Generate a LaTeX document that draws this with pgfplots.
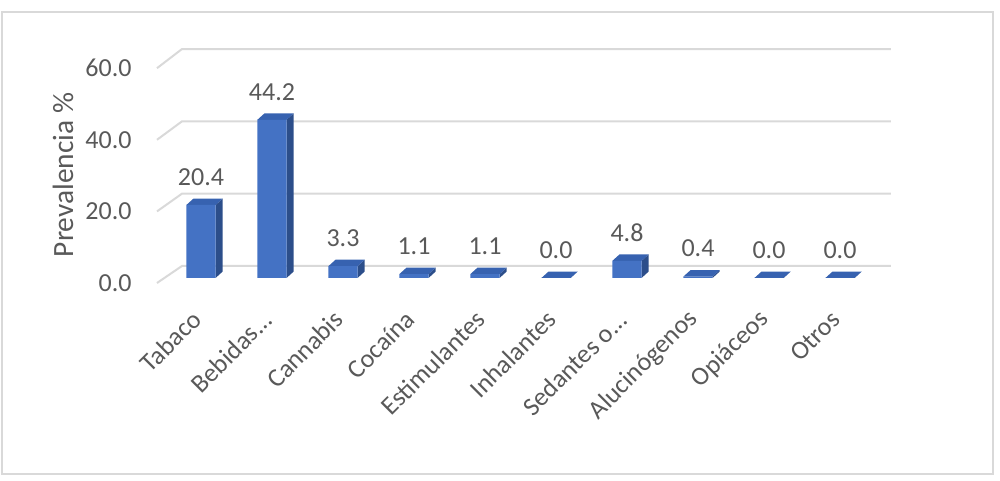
\documentclass[border=0pt]{standalone}
\usepackage{fontspec}
\setmainfont{Carlito}
\usepackage{pgfplots}
\usepackage{pgfplotstable}
\pgfplotsset{compat=1.18}
\definecolor{frontcol}{HTML}{4472C4}
\definecolor{sidecol}{HTML}{2C4E8A}
\definecolor{topcol}{HTML}{3762B0}
\definecolor{gridcol}{HTML}{D9D9D9}
\definecolor{textcol}{HTML}{595959}
\pgfplotstableread{
x v
0 20.4
1 44.2
2 3.3
3 1.1
4 1.1
5 0.0
6 4.8
7 0.4
8 0.0
9 0.0
}\datatable
\begin{document}
\begin{tikzpicture}
\begin{axis}[
  x=35.5pt, y=1.79pt,
  xmin=-0.62, xmax=9.718, ymin=-1.4, ymax=63.95,
  clip=false,
  axis line style={draw=none},
  major tick length=0pt,
  /pgf/number format/assume math mode=true,
  xtick={0,...,9},
  xticklabels={Tabaco,{Bebidas.\kern0pt.\kern0pt.},Cannabis,Cocaína,Estimulantes,Inhalantes,{Sedantes o.\kern0pt.\kern0pt.},Alucinógenos,Opiáceos,Otros},
  xticklabel style={xshift=-2pt, yshift=-16pt, rotate=45, anchor=east, inner sep=0pt, font=\fontsize{13}{15}\selectfont, text=textcol},
  ytick={-1.4,18.6,38.6,58.6},
  yticklabels={0.0,20.0,40.0,60.0},
  yticklabel style={anchor=east, inner sep=0pt, xshift=-12.5pt, font=\fontsize{13}{15}\selectfont, text=textcol},
  ylabel={Prevalencia \%},
  every axis y label/.style={at={(axis description cs:-0.128,0.4615)}, rotate=90, anchor=center, font=\fontsize{14.7}{17}\selectfont, text=textcol},
]
% border and page frame
\path (axis cs:-2.831,77.65) rectangle (axis cs:11.254,-56.70);
\draw[gridcol, line width=0.75pt] (axis cs:-2.803,74.30) rectangle (axis cs:11.155,-54.75);
% gridlines (floor + back wall)
\addplot[gridcol, line width=1pt, forget plot] coordinates {(-0.62,-1.4) (-0.268,3.35) (9.718,3.35)};
\addplot[gridcol, line width=1pt, forget plot] coordinates {(-0.62,18.6) (-0.268,23.55) (9.718,23.55)};
\addplot[gridcol, line width=1pt, forget plot] coordinates {(-0.62,38.6) (-0.268,43.75) (9.718,43.75)};
\addplot[gridcol, line width=1pt, forget plot] coordinates {(-0.62,58.6) (-0.268,63.95) (9.718,63.95)};
% 3D side and top faces
\pgfplotsinvokeforeach{0,...,9}{%
  \pgfplotstablegetelem{#1}{v}\of\datatable
  \pgfmathsetmacro\V{\pgfplotsretval}%
  \pgfmathsetmacro\VT{\V+1.8}%
  \pgfmathsetmacro\XL{#1-0.205}%
  \pgfmathsetmacro\XR{#1+0.205}%
  \pgfmathsetmacro\XRB{#1+0.305}%
  \pgfmathsetmacro\XLB{#1-0.105}%
  \edef\doit{%
    \noexpand\addplot[draw=none, fill=sidecol, forget plot] coordinates {(\XR,0) (\XRB,1.8) (\XRB,\VT) (\XR,\V)};
    \noexpand\addplot[draw=none, fill=topcol, forget plot] coordinates {(\XL,\V) (\XR,\V) (\XRB,\VT) (\XLB,\VT)};
  }\doit
}
% front faces
\addplot[ybar, bar width=0.41, fill=frontcol, draw=none,
  nodes near coords,
  /pgf/number format/.cd, fixed, fixed zerofill, precision=1, /pgfplots/.cd,
  every node near coord/.append style={anchor=center, yshift=14pt, font=\fontsize{13}{15}\selectfont, text=textcol}
] table[x=x, y=v] {\datatable};
\end{axis}
\end{tikzpicture}
\end{document}
